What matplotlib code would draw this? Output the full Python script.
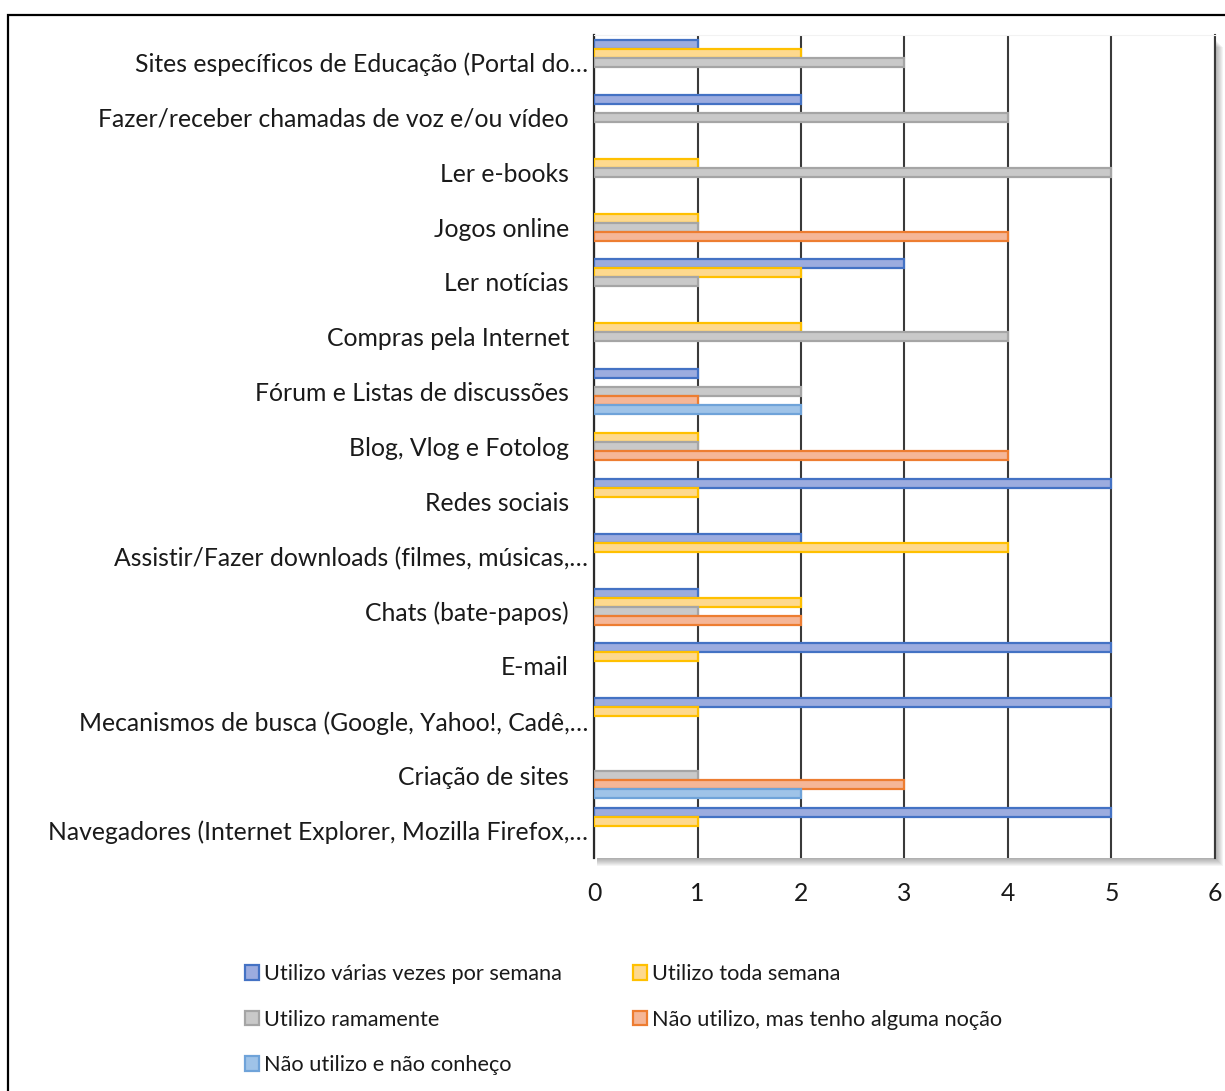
import matplotlib
matplotlib.use("Agg")
import matplotlib.pyplot as plt
from matplotlib.patches import Rectangle, Patch
import numpy as np

plt.rcParams['font.family'] = ['Lato', 'DejaVu Sans']

# categories listed bottom to top
categories = [
    "Navegadores (Internet Explorer, Mozilla Firefox,…",
    "Criação de sites",
    "Mecanismos de busca (Google, Yahoo!, Cadê,…",
    "E-mail",
    "Chats (bate-papos)",
    "Assistir/Fazer downloads (filmes, músicas,…",
    "Redes sociais",
    "Blog, Vlog e Fotolog",
    "Fórum e Listas de discussões",
    "Compras pela Internet",
    "Ler notícias",
    "Jogos online",
    "Ler e-books",
    "Fazer/receber chamadas de voz e/ou vídeo",
    "Sites específicos de Educação (Portal do…",
]

varias_vezes = [5, 0, 5, 5, 1, 2, 5, 0, 1, 0, 3, 0, 0, 2, 1]
toda_semana = [1, 0, 1, 1, 2, 4, 1, 1, 0, 2, 2, 1, 1, 0, 2]
raramente = [0, 1, 0, 0, 1, 0, 0, 1, 2, 4, 1, 1, 5, 4, 3]
alguma_nocao = [0, 3, 0, 0, 2, 0, 0, 4, 1, 0, 0, 4, 0, 0, 0]
nao_conheco = [0, 2, 0, 0, 0, 0, 0, 0, 2, 0, 0, 0, 0, 0, 0]

series_names = [
    "Utilizo várias vezes por semana",
    "Utilizo toda semana",
    "Utilizo ramamente",
    "Não utilizo, mas tenho alguma noção",
    "Não utilizo e não conheço",
]
series_values = [varias_vezes, toda_semana, raramente, alguma_nocao, nao_conheco]
fills = ["#9cacdf", "#fed98e", "#c9c9c9", "#f5b697", "#9fc3e8"]
edges = ["#4472c4", "#ffc000", "#a5a5a5", "#ed7d31", "#6fa3d9"]

W, H = 1225, 1091
fig = plt.figure(figsize=(W / 100, H / 100), dpi=100)
fig.patch.set_facecolor("white")

# outer chart border (runs off the right/bottom edges)
fig.add_artist(Rectangle((8 / W, -0.1), 1.2, (H - 15) / H + 0.1,
                         transform=fig.transFigure, fill=False,
                         lw=1.6, ec="black", zorder=0))

left, right, top, bottom = 594, 1215, 35, 858
ax = fig.add_axes([left / W, 1 - bottom / H, (right - left) / W, (bottom - top) / H])
ax.set_zorder(3)
ax.set_facecolor("white")

# soft drop shadow on the right and bottom of the plot area
for i in range(1, 9):
    fig.add_artist(Rectangle(((left + 3) / W, 1 - (bottom + i) / H),
                             (right - left + i - 3) / W, (bottom - top - 4) / H,
                             transform=fig.transFigure, fc="#000000",
                             ec="none", alpha=0.045, zorder=1))

y = np.arange(len(categories))
h = 0.164
offsets = [2 * h, h, 0, -h, -2 * h]
for vals, off, fc, ec in zip(series_values, offsets, fills, edges):
    vals = np.array(vals, dtype=float)
    mask = vals > 0
    ax.barh(y[mask] + off, vals[mask], height=h, color=fc, edgecolor=ec,
            linewidth=1.6, zorder=3)

ax.set_xlim(0, 6)
ax.set_ylim(-0.5, len(categories) - 0.5)
ax.set_xticks(range(7))
ax.set_yticks(y)
ax.set_yticklabels(categories)
ax.tick_params(axis="both", length=0, labelsize=17.8, labelcolor="#1a1a1a")
ax.tick_params(axis="x", pad=17)
for tick, lab in zip(ax.yaxis.get_major_ticks(), categories):
    tick.set_pad(4 if lab.endswith("…") else 18)

ax.grid(axis="x", color="#3a3a3a", linewidth=1.5, zorder=2)
ax.set_axisbelow(True)
ax.spines["left"].set_color("#2a2a2a")
ax.spines["left"].set_linewidth(1.6)
ax.spines["right"].set_color("#3a3a3a")
ax.spines["right"].set_linewidth(1.5)
ax.spines["top"].set_color("#f2f2f2")
ax.spines["bottom"].set_visible(False)

handles = [Patch(facecolor=fc, edgecolor=ec, linewidth=1.6) for fc, ec in zip(fills, edges)]
order = [0, 2, 4, 1, 3]
fig.legend([handles[i] for i in order], [series_names[i] for i in order],
           ncol=2, loc="upper left", bbox_to_anchor=(245 / W, 1 - 964 / H),
           frameon=False, fontsize=15.7, labelcolor="#1a1a1a",
           handlelength=0.65, handleheight=0.65, handletextpad=0.22,
           columnspacing=3.25, labelspacing=1.17, borderaxespad=0, borderpad=0)

fig.savefig("out.png", dpi=100, facecolor="white")
